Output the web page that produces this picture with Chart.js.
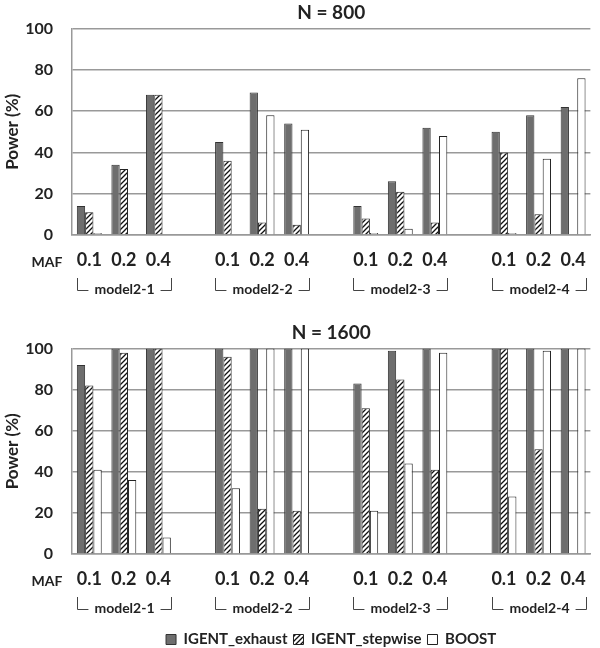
<!DOCTYPE html>
<html>
<head>
<meta charset="utf-8">
<script src="https://cdn.jsdelivr.net/npm/chart.js@4/dist/chart.umd.min.js"></script>
<style>
  html, body { margin: 0; background: #fff; overflow: hidden; }
  .box { position: absolute; left: 0; width: 600px; }
</style>
</head>
<body>
<div class="box" style="top:0;height:320px"><canvas id="top"></canvas></div>
<div class="box" style="top:320px;height:337px"><canvas id="bottom"></canvas></div>
<script>
// MAF values per model, and the model names
const mafTicks = ['0.1', '0.2', '0.4'];
const models = ['model2-1', 'model2-2', 'model2-3', 'model2-4'];

// N = 800, power (%) in model order, 0.1 / 0.2 / 0.4
const exhaust800  = [14, 34, 68,  45, 69, 54,  14, 26, 52,  50, 58, 62];
const stepwise800 = [11, 32, 68,  36,  6,  5,   8, 21,  6,  40, 10,  0];
const boost800    = [ 1,  0,  0,   0, 58, 51,   1,  3, 48,   1, 37, 76];

// N = 1600
const exhaust1600  = [92, 100, 100,  100, 100, 100,  83, 99, 100,  100, 100, 100];
const stepwise1600 = [82,  98, 100,   96,  22,  21,  71, 85,  41,  100,  51,   0];
const boost1600    = [41,  36,   8,   32, 100, 100,  21, 44,  98,   28,  99, 100];

const yTicks = [0, 20, 40, 60, 80, 100];

Chart.defaults.font.family = 'Lato';
Chart.defaults.font.weight = 'bold';
Chart.defaults.color = '#222';

// one blank category between model groups
function withGaps(values) {
    var out = [];
    models.forEach(function (m, g) {
        if (g > 0) out.push(null);
        for (var k = 0; k < mafTicks.length; k++) out.push(values[g * mafTicks.length + k]);
    });
    return out;
}
var labels = withGaps(mafTicks.concat(mafTicks, mafTicks, mafTicks)).map(v => v === null ? '' : v);

function hatch() {
    var s = 5;
    var c = document.createElement('canvas');
    c.width = s; c.height = s;
    var g = c.getContext('2d');
    g.fillStyle = '#fff';
    g.fillRect(0, 0, s, s);
    g.strokeStyle = '#111';
    g.lineWidth = 1.3;
    g.beginPath();
    g.moveTo(0, s); g.lineTo(s, 0);
    g.moveTo(-1, 1); g.lineTo(1, -1);
    g.moveTo(s - 1, s + 1); g.lineTo(s + 1, s - 1);
    g.stroke();
    return g.createPattern(c, 'repeat');
}

var catPct = 0.72;

var groupLabels = {
    id: 'groupLabels',
    afterDraw: function (chart) {
        var ctx = chart.ctx;
        var x = chart.scales.x;
        var base = chart.chartArea.bottom;
        var gw = x.width / labels.length * catPct;
        ctx.save();
        ctx.fillStyle = '#222';
        ctx.font = 'bold 14px Lato';
        ctx.textAlign = 'center';
        ctx.textBaseline = 'middle';
        ctx.fillText('MAF', 47, base + 27);
        ctx.strokeStyle = '#444';
        ctx.lineWidth = 1;
        models.forEach(function (m, g) {
            var i0 = g * 4, i2 = g * 4 + 2;
            var l = Math.round(x.getPixelForValue(i0) - gw / 2) + 0.5;
            var r = Math.round(x.getPixelForValue(i2) + gw / 2) + 0.5;
            var yt = base + 43, yb = base + 55.5;
            var mid = (l + r) / 2;
            var tw = ctx.measureText(m).width;
            ctx.beginPath();
            ctx.moveTo(l, yt); ctx.lineTo(l, yb); ctx.lineTo(mid - tw / 2 - 6, yb);
            ctx.moveTo(mid + tw / 2 + 6, yb); ctx.lineTo(r, yb); ctx.lineTo(r, yt);
            ctx.stroke();
            ctx.fillText(m, mid, yb - 1);
        });
        ctx.restore();
    }
};

function makeChart(id, title, ex, sw, bo, xHeight, showLegend) {
    var ctx = document.getElementById(id).getContext('2d');
    return new Chart(ctx, {
        type: 'bar',
        data: {
            labels: labels,
            datasets: [
                {
                    label: 'IGENT_exhaust',
                    data: withGaps(ex),
                    backgroundColor: '#6e6e6e',
                    borderColor: '#333',
                    borderWidth: 1
                },
                {
                    label: 'IGENT_stepwise',
                    data: withGaps(sw),
                    backgroundColor: hatch(),
                    borderColor: '#222',
                    borderWidth: 1
                },
                {
                    label: 'BOOST',
                    data: withGaps(bo),
                    backgroundColor: '#fff',
                    borderColor: '#222',
                    borderWidth: 1
                }
            ]
        },
        options: {
            responsive: true,
            maintainAspectRatio: false,
            animation: false,
            categoryPercentage: catPct,
            barPercentage: 1,
            layout: { padding: { left: 0, right: 2, top: 0, bottom: 0 } },
            plugins: {
                title: {
                    display: true,
                    text: title,
                    fullSize: false,
                    font: { size: 19, weight: 'bold' },
                    color: '#222',
                    padding: { top: 0, bottom: 4 }
                },
                legend: {
                    display: showLegend,
                    position: 'bottom',
                    fullSize: false,
                    labels: {
                        boxWidth: 10,
                        boxHeight: 10,
                        padding: 6,
                        font: { size: 15, weight: 'bold' },
                        color: '#222'
                    }
                },
                tooltip: { enabled: false }
            },
            scales: {
                x: {
                    grid: { display: false, drawTicks: false },
                    border: { color: '#999', width: 1.5 },
                    ticks: {
                        autoSkip: false,
                        maxRotation: 0,
                        padding: 14,
                        font: { size: 18, weight: 'bold' },
                        color: '#222'
                    },
                    afterFit: function (s) { s.height = xHeight; }
                },
                y: {
                    min: 0,
                    max: 100,
                    afterBuildTicks: function (s) { s.ticks = yTicks.map(v => ({ value: v })); },
                    grid: { color: '#999', lineWidth: 1.5, drawTicks: false },
                    border: { color: '#999', width: 1.5 },
                    ticks: {
                        padding: 19,
                        font: { size: 16, weight: 'bold' },
                        color: '#222'
                    },
                    title: {
                        display: true,
                        text: 'Power (%)',
                        font: { size: 17, weight: 'bold' },
                        color: '#222',
                        padding: { top: 2, bottom: 0 }
                    },
                    afterFit: function (s) { s.width = 72; }
                }
            }
        },
        plugins: [groupLabels]
    });
}

makeChart('top', 'N = 800', exhaust800, stepwise800, boost800, 85, false);
makeChart('bottom', 'N = 1600', exhaust1600, stepwise1600, boost1600, 72, true);
</script>
</body>
</html>
